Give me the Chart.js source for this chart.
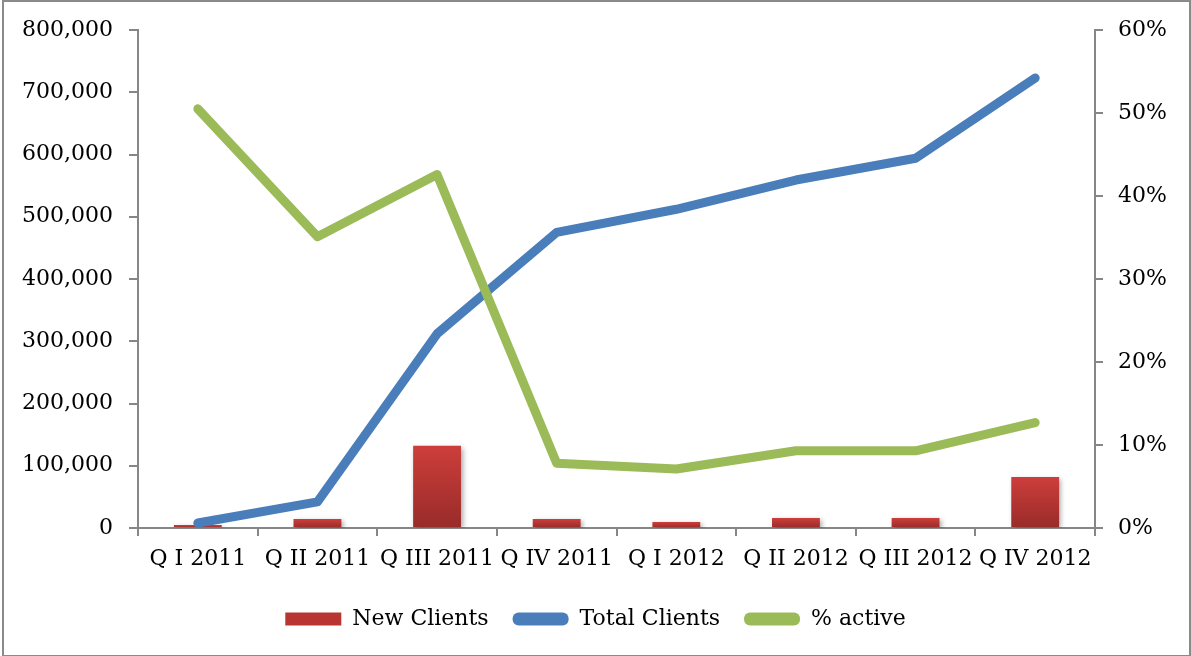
<!DOCTYPE html>
<html>
<head>
<meta charset="utf-8">
<script src="https://cdn.jsdelivr.net/npm/chart.js@4/dist/chart.umd.min.js"></script>
<style>
  html, body { margin: 0; padding: 0; background: #fff; }
  #wrap { position: relative; width: 1191px; height: 656px; }
  #frame { position: absolute; left: 2px; top: 0px; width: 1185px; height: 653px; border: 2px solid #8a8a8a; box-sizing: content-box; pointer-events: none; }
  canvas { position: absolute; left: 0; top: 0; }
</style>
</head>
<body>
<div id="wrap">
  <canvas id="c" width="1191" height="656"></canvas>
  <div id="frame"></div>
</div>
<script>
const categories = ['Q I 2011', 'Q II 2011', 'Q III 2011', 'Q IV 2011', 'Q I 2012', 'Q II 2012', 'Q III 2012', 'Q IV 2012'];
const newClients = [5000, 14500, 132000, 14500, 9500, 16000, 16000, 82000];
const totalClients = [8000, 42000, 312000, 475000, 512000, 559000, 594000, 723000];
const pctActive = [0.505, 0.351, 0.426, 0.078, 0.071, 0.093, 0.093, 0.127];
const seriesNames = ['New Clients', 'Total Clients', '% active'];

const FONT = "'DejaVu Serif', serif";
const AXIS = '#868686';

function barGradient(ctx) {
  const chart = ctx.chart;
  if (!chart.chartArea || ctx.type !== 'data') return '#c0392f';
  const y = chart.scales.y;
  const top = y.getPixelForValue(ctx.raw);
  const base = y.getPixelForValue(0);
  if (!isFinite(top) || Math.abs(base - top) < 1) return '#c0392f';
  const g = chart.ctx.createLinearGradient(0, top, 0, base);
  g.addColorStop(0, '#cd3e3b');
  g.addColorStop(1, '#982b29');
  return g;
}

const shadowPlugin = {
  id: 'barShadow',
  beforeDatasetDraw(chart, args) {
    if (args.index === 0) {
      const c = chart.ctx;
      c.save();
      c.shadowColor = 'rgba(0,0,0,0.35)';
      c.shadowBlur = 5;
      c.shadowOffsetX = 2;
      c.shadowOffsetY = 2;
    }
  },
  afterDatasetDraw(chart, args) {
    if (args.index === 0) chart.ctx.restore();
  }
};

new Chart(document.getElementById('c'), {
  data: {
    labels: categories,
    datasets: [
      {
        type: 'bar', label: seriesNames[0], data: newClients, yAxisID: 'y', order: 2,
        backgroundColor: barGradient, borderWidth: 0,
        categoryPercentage: 0.8, barPercentage: 0.5
      },
      {
        type: 'line', label: seriesNames[1], data: totalClients, yAxisID: 'y', order: 1,
        borderColor: '#4a7ebb', backgroundColor: '#4a7ebb', borderWidth: 9,
        pointRadius: 0, borderCapStyle: 'round', borderJoinStyle: 'round', tension: 0
      },
      {
        type: 'line', label: seriesNames[2], data: pctActive, yAxisID: 'y1', order: 0,
        borderColor: '#9bbb59', backgroundColor: '#9bbb59', borderWidth: 9,
        pointRadius: 0, borderCapStyle: 'round', borderJoinStyle: 'round', tension: 0
      }
    ]
  },
  options: {
    responsive: false,
    animation: false,
    devicePixelRatio: 1,
    layout: { padding: { top: 30, left: 0, right: 0, bottom: 16 } },
    plugins: {
      tooltip: { enabled: false },
      legend: {
        position: 'bottom',
        labels: {
          font: { family: FONT, size: 22 },
          color: '#000',
          boxWidth: 56,
          boxHeight: 13,
          padding: 24,
          sort: (a, b) => a.datasetIndex - b.datasetIndex,
          generateLabels(chart) {
            const cols = ['#b83532', '#4a7ebb', '#9bbb59'];
            return chart.data.datasets.map((ds, i) => ({
              text: ds.label,
              fillStyle: cols[i],
              strokeStyle: cols[i],
              lineWidth: 0,
              borderRadius: i === 0 ? 0 : 6,
              fontColor: '#000',
              datasetIndex: i,
              hidden: false
            }));
          },
          useBorderRadius: true
        }
      }
    },
    scales: {
      x: {
        offset: true,
        grid: { offset: true, drawOnChartArea: false, drawTicks: true, tickLength: 8, color: AXIS, lineWidth: 2 },
        border: { color: AXIS, width: 2 },
        ticks: { font: { family: FONT, size: 22 }, color: '#000', padding: 10, autoSkip: false, maxRotation: 0, minRotation: 0 },
        afterFit(s) { s.height = 56; }
      },
      y: {
        position: 'left',
        min: 0, max: 800000,
        grid: { drawOnChartArea: false, tickLength: 9, color: AXIS, lineWidth: 2 },
        border: { color: AXIS, width: 2 },
        ticks: {
          stepSize: 100000, font: { family: FONT, size: 22 }, color: '#000', padding: 16,
          callback: v => v.toLocaleString('en-US')
        },
        afterFit(s) { s.width = 138; }
      },
      y1: {
        position: 'right',
        min: 0, max: 0.6,
        grid: { drawOnChartArea: false, tickLength: 8, color: AXIS, lineWidth: 2 },
        border: { color: AXIS, width: 2 },
        ticks: {
          stepSize: 0.1, font: { family: FONT, size: 22 }, color: '#000', padding: 15,
          callback: v => Math.round(v * 100) + '%'
        },
        afterFit(s) { s.width = 96; }
      }
    }
  },
  plugins: [shadowPlugin]
});
</script>
</body>
</html>
